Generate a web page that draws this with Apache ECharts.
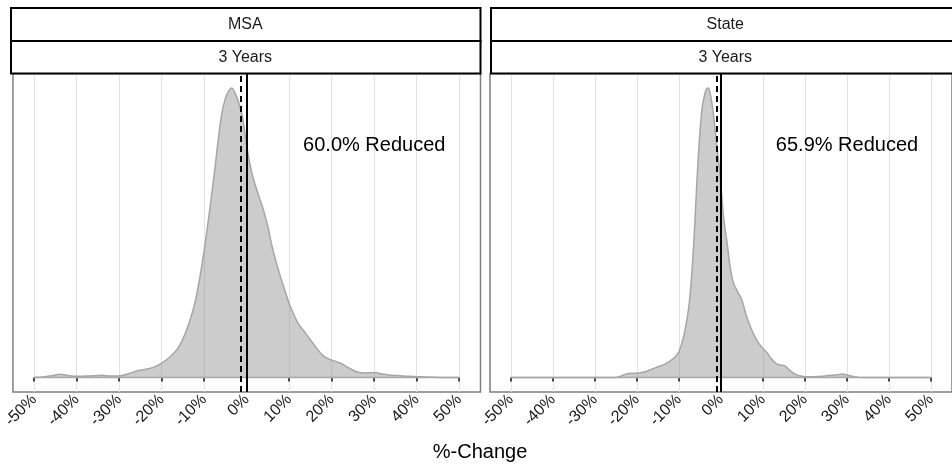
<!DOCTYPE html>
<html><head><meta charset="utf-8">
<script src="https://cdn.jsdelivr.net/npm/echarts@6/dist/echarts.min.js"></script>
<style>html,body{margin:0;padding:0;background:#fff}#c{width:952px;height:466px}</style>
</head><body><div id="c"></div>
<script>
// ---- data ----
const tickValues = [-50, -40, -30, -20, -10, 0, 10, 20, 30, 40, 50];
const panelTitles = ['MSA', 'State'];
const periodTitle = '3 Years';
const axisTitle = '%-Change';

const msaX = [-50,-48,-46,-44,-42,-40,-38,-36,-34,-32,-30,-28,-26,-24,-22,-20,-18,-16,-14,-12,-10,-8,-6,-5,-4,-3.5,-3,-2,-1,0,1,2,3,4,5,6,7,8,9,10,12,14,16,18,20,22,24,26,28,30,32,34,36,38,40,42,44,46,48,50];
const msaY = [0,0.002,0.006,0.011,0.007,0.004,0.005,0.006,0.008,0.005,0.005,0.012,0.022,0.028,0.035,0.05,0.072,0.105,0.17,0.27,0.44,0.66,0.9,0.965,0.995,1.0,0.99,0.955,0.9,0.80,0.72,0.665,0.62,0.575,0.52,0.45,0.395,0.345,0.3,0.255,0.19,0.15,0.11,0.075,0.06,0.05,0.033,0.019,0.016,0.017,0.012,0.008,0.006,0.004,0.003,0.002,0.001,0,0,0];

const stateX = [-50,-40,-30,-26,-25,-24,-23,-22,-20,-19,-18,-17,-16,-15,-14,-13,-12,-11,-10,-9,-8,-7.5,-7,-6.5,-6,-5.5,-5,-4.5,-4,-3.5,-3,-2.5,-2,-1.5,-1,-0.5,0,0.5,1,1.5,2,2.5,3,4,5,6,7,8,9,10,11,12,13,14,15,16,17,18,19,20,22,24,26,28,29,30,31,32,33,40,50];
const stateY = [0,0,0,0,0,0.004,0.01,0.014,0.015,0.017,0.02,0.026,0.031,0.037,0.042,0.049,0.058,0.07,0.09,0.135,0.21,0.265,0.35,0.46,0.6,0.74,0.85,0.93,0.97,0.995,1.0,0.975,0.93,0.87,0.8,0.74,0.66,0.57,0.51,0.46,0.4,0.355,0.325,0.295,0.267,0.215,0.175,0.143,0.118,0.1,0.085,0.065,0.05,0.043,0.042,0.03,0.018,0.009,0.005,0.003,0.003,0.004,0.008,0.01,0.012,0.009,0.005,0.002,0,0,0];

const baselineX = [-50, 50];
const baselineY = [0, 0];
const dashedX = [-1.3, -1.1];   // dashed reference line per panel
const solidX = [0, 0];          // solid reference line per panel
const annotations = ['60.0% Reduced', '65.9% Reduced'];
const annotX = [30, 30];
const annotY = [0.8, 0.8];

// ---- chart ----
const FONT = "'Liberation Sans', Arial, Helvetica, sans-serif";
const zip = (xs, ys) => xs.map((x, i) => [x, ys[i]]);
const densities = [zip(msaX, msaY), zip(stateX, stateY)];
const panelLeft = [10, 490];
const panelW = 470.5, panelTop = 73.5, panelH = 318.5;

const grids = [], xAxes = [], yAxes = [], series = [], graphics = [];
panelLeft.forEach((L, p) => {
  grids.push({left: L, top: panelTop, width: panelW, height: panelH, show: true,
    borderColor: '#7f7f7f', borderWidth: 1.5, backgroundColor: 'transparent', containLabel: false});
  xAxes.push({gridIndex: p, type: 'value', min: -55, max: 55,
    axisLine: {show: false},
    axisTick: {show: true, customValues: tickValues, length: 4, lineStyle: {color: '#111', width: 1.5}},
    axisLabel: {customValues: tickValues, rotate: 45, formatter: '{value}%', fontSize: 16, color: '#1a1a1a', margin: 5, fontFamily: FONT},
    splitLine: {show: true, lineStyle: {color: '#e3e3e3', width: 1}}
  });
  yAxes.push({gridIndex: p, type: 'value', min: -0.05, max: 1.05, show: false, splitLine: {show: false}});
  series.push({type: 'line', xAxisIndex: p, yAxisIndex: p, data: zip(baselineX, baselineY),
    symbol: 'none', silent: true, lineStyle: {color: '#b3b3b3', width: 1.5}, z: 2});
  series.push({type: 'line', xAxisIndex: p, yAxisIndex: p, data: densities[p],
    symbol: 'none', smooth: 0.3, silent: true,
    lineStyle: {color: '#a6a6a6', width: 1.5},
    areaStyle: {color: 'rgba(128,128,128,0.4)', opacity: 1, origin: 'auto'}, z: 3,
    markLine: {symbol: 'none', silent: true, label: {show: false}, animation: false,
      data: [
        {xAxis: dashedX[p], lineStyle: {type: [6, 4], color: '#000', width: 2}},
        {xAxis: solidX[p], lineStyle: {type: 'solid', color: '#000', width: 2}}
      ]}
  });
  series.push({type: 'scatter', xAxisIndex: p, yAxisIndex: p, data: [[annotX[p], annotY[p]]],
    symbolSize: 0, silent: true, z: 5,
    label: {show: true, position: 'inside', formatter: annotations[p], fontSize: 20, color: '#000', opacity: 1, fontFamily: FONT}
  });
  // strips
  graphics.push({type: 'rect', z: 10, shape: {x: L + 1, y: 8, width: panelW - 1, height: 33},
    style: {fill: '#fff', stroke: '#000', lineWidth: 2}});
  graphics.push({type: 'rect', z: 10, shape: {x: L + 1, y: 41, width: panelW - 1, height: 32.5},
    style: {fill: '#fff', stroke: '#000', lineWidth: 2}});
  graphics.push({type: 'text', z: 11, style: {text: panelTitles[p], x: L + panelW / 2, y: 25,
    align: 'center', verticalAlign: 'middle', fontSize: 16, fontFamily: FONT, fill: '#1a1a1a'}});
  graphics.push({type: 'text', z: 11, style: {text: periodTitle, x: L + panelW / 2, y: 57.5,
    align: 'center', verticalAlign: 'middle', fontSize: 16, fontFamily: FONT, fill: '#1a1a1a'}});
});
graphics.push({type: 'text', z: 11, style: {text: axisTitle, x: 480, y: 452,
  align: 'center', verticalAlign: 'middle', fontSize: 20, fontFamily: FONT, fill: '#000'}});

const chart = echarts.init(document.getElementById('c'), null, {renderer: 'canvas'});
chart.setOption({
  animation: false,
  backgroundColor: '#fff',
  grid: grids, xAxis: xAxes, yAxis: yAxes, series: series, graphic: graphics
});
</script>
</body></html>
